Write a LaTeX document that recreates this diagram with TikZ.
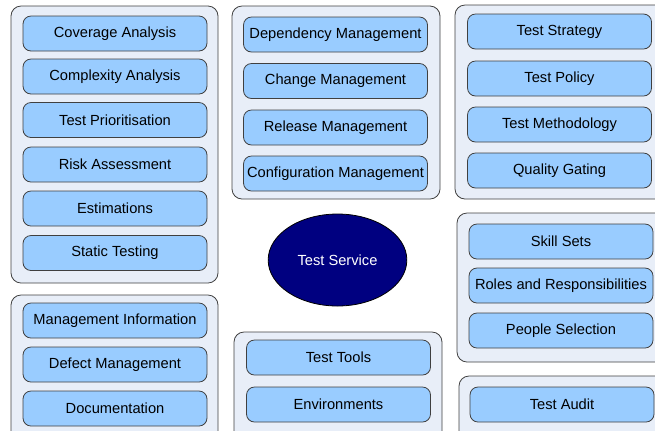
\documentclass[tikz,border=0pt]{standalone}
\usepackage{fontspec}
\setmainfont{Liberation Sans}
\usetikzlibrary{shapes.geometric}
\definecolor{grpfill}{HTML}{E8EEF8}
\definecolor{boxfill}{HTML}{99CCFF}
\definecolor{edge}{HTML}{404040}
\definecolor{svcfill}{HTML}{000080}
\begin{document}
\begin{tikzpicture}[x=0.75pt,y=-0.75pt,font=\fontsize{11}{13}\selectfont,
  group/.style={draw=edge,fill=grpfill,line width=0.6pt,rounded corners=7.5pt},
  item/.style={draw=edge,fill=boxfill,line width=0.6pt,rounded corners=6pt,
    minimum width=138pt,minimum height=26.25pt,inner sep=0pt,text=black},
  service/.style={ellipse,draw=black,fill=svcfill,line width=0.6pt,
    minimum width=104pt,minimum height=69pt,text=white}]
\useasboundingbox (0,0) rectangle (655,430);
\clip (0,0) rectangle (655,430);
%groups
\draw[group] (11,6) rectangle (218,283);
\draw[group] (232,6) rectangle (440,199);
\draw[group] (455,5) rectangle (668,199);
\draw[group] (11,295) rectangle (218,445);
\draw[group] (234,332) rectangle (442,445);
\draw[group] (457,213) rectangle (668,362);
\draw[group] (459,376) rectangle (668,445);
%group 1:
\node[item] at (115,33.5) (cov) {Coverage Analysis};
\node[item] at (115,76.5) (cplx) {Complexity Analysis};
\node[item] at (115,120) (prio) {Test Prioritisation};
\node[item] at (115,164.5) (risk) {Risk Assessment};
\node[item] at (115,208.5) (est) {Estimations};
\node[item] at (115,253) (stat) {Static Testing};
%group 2:
\node[item] at (335.5,34.5) (dep) {Dependency Management};
\node[item] at (335.5,81) (chg) {Change Management};
\node[item] at (335.5,127.5) (rel) {Release Management};
\node[item] at (335.5,173.5) (cfg) {Configuration Management};
%group 3:
\node[item] at (559.5,31.5) (strat) {Test Strategy};
\node[item] at (559.5,78.5) (pol) {Test Policy};
\node[item] at (559.5,124.5) (meth) {Test Methodology};
\node[item] at (559.5,170.5) (gate) {Quality Gating};
%group 4:
\node[item] at (115,320.5) (mi) {Management Information};
\node[item] at (115,364.5) (def) {Defect Management};
\node[item] at (115,408.5) (doc) {Documentation};
%group 5:
\node[item] at (338.5,357.5) (tools) {Test Tools};
\node[item] at (338.5,404.5) (env) {Environments};
%group 6:
\node[item] at (561,241.5) (skill) {Skill Sets};
\node[item] at (561,285.5) (roles) {Roles and Responsibilities};
\node[item] at (561,330.5) (sel) {People Selection};
%group 7:
\node[item] at (562,404.5) (audit) {Test Audit};
%centre
\node[service] at (337.5,260) (svc) {Test Service};
\end{tikzpicture}
\end{document}
